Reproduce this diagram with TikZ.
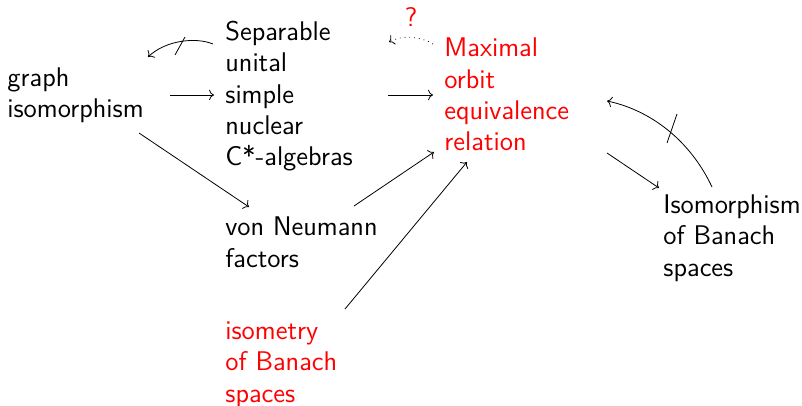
\documentclass[tikz,border=0pt]{standalone}
\usetikzlibrary{arrows.meta}
\begin{document}
\begin{tikzpicture}[x=0.5pt,y=-0.5pt,
  txt/.style={anchor=base west, inner sep=0pt, align=left, font=\sffamily\fontsize{13.5}{15.7}\selectfont},
  redtxt/.style={txt, text=red},
  arr/.style={->, line width=0.4pt},
  slash/.style={line width=0.4pt}]
\useasboundingbox (0,0) rectangle (802,406);
% nodes (anchored at the baseline of their last line)
\node[txt] (graph) at (7,118) {graph\\isomorphism};
\node[txt] (csa) at (225,166) {Separable\\unital\\simple\\nuclear\\C*-algebras};
\node[redtxt] (meq) at (444,151) {Maximal\\orbit\\equivalence\\relation};
\node[txt] (vn) at (225,267) {von Neumann\\factors};
\node[redtxt] (isom) at (225,402) {isometry\\of Banach\\spaces};
\node[txt] (ban) at (663,276) {Isomorphism\\of Banach\\spaces};
\node[redtxt, anchor=center] (q) at (411,17) {?};
% endpoints
\coordinate (g1) at (170,95);  \coordinate (c1) at (214,95);
\coordinate (c2) at (388,95);  \coordinate (m1) at (433,95);
\coordinate (g2) at (139,133); \coordinate (v1) at (249,207);
\coordinate (v2) at (354,206); \coordinate (m2) at (434,152);
\coordinate (i1) at (345,309); \coordinate (m3) at (467,162);
\coordinate (m4) at (607,153); \coordinate (b1) at (659,188);
\coordinate (b2) at (712,187); \coordinate (m5) at (607,101);
\coordinate (c3) at (213,44);  \coordinate (g3) at (148,57);
\coordinate (m6) at (433,44);  \coordinate (c4) at (389,42);
% connectors
\draw[arr] (g1) -- (c1);
\draw[arr] (c2) -- (m1);
\draw[arr] (g2) -- (v1);
\draw[arr] (v2) -- (m2);
\draw[arr] (i1) -- (m3);
\draw[arr] (m4) -- (b1);
\draw[arr] (b2) .. controls (690,140) and (650,110) .. (m5);
\draw[slash] (677,114) -- (667,143);
\draw[arr] (c3) .. controls (196,37) and (166,40) .. (g3);
\draw[slash] (185,37) -- (175,55);
\draw[arr, dotted] (m6) .. controls (420,36) and (402,35) .. (c4);
\end{tikzpicture}
\end{document}
